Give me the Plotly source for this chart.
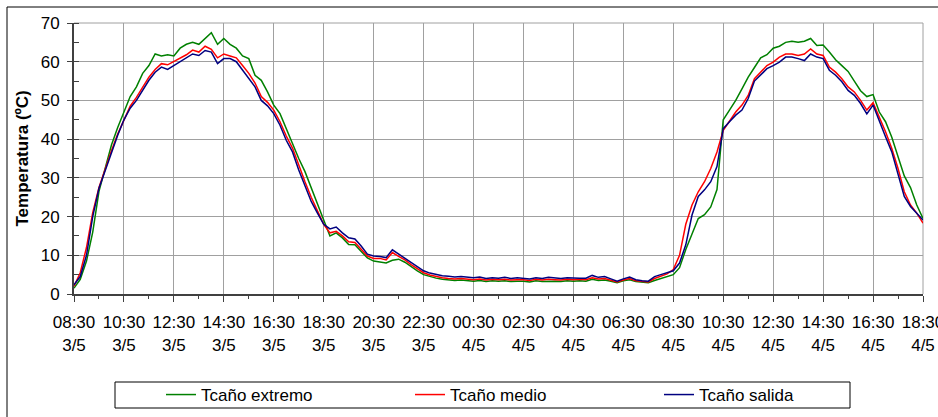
import pandas as pd
import plotly.graph_objects as go

# 15-minute readings from 08:30 3/5 to 18:30 4/5
times = pd.date_range("2008-05-03 08:30", periods=137, freq="15min")

night_salida = [4.6, 4.4, 4.5, 4.3, 4.2, 4.4, 4.0, 4.2, 4.1, 4.3, 4.0, 4.2, 4.1, 3.9, 4.2, 4.0,
                4.3, 4.1, 4.0, 4.2, 4.1, 4.1, 4.1, 4.8, 4.3, 4.5, 3.9, 3.3, 3.9, 4.4, 3.7, 3.4, 3.3]
night_medio = [4.0, 3.9, 4.0, 3.8, 3.7, 3.9, 3.6, 3.8, 3.7, 3.8, 3.6, 3.7, 3.7, 3.5, 3.8, 3.6,
               3.8, 3.7, 3.6, 3.8, 3.7, 3.8, 3.7, 4.2, 3.9, 4.0, 3.6, 3.1, 3.6, 4.0, 3.4, 3.2, 3.1]
night_extremo = [3.6, 3.5, 3.6, 3.4, 3.3, 3.5, 3.2, 3.4, 3.3, 3.4, 3.2, 3.3, 3.3, 3.1, 3.4, 3.2,
                 3.3, 3.3, 3.2, 3.4, 3.3, 3.4, 3.3, 3.8, 3.5, 3.6, 3.3, 2.9, 3.4, 3.7, 3.2, 3.0, 2.9]

t_salida = ([2.4, 4.5, 10, 20, 27.3, 32, 36.7, 41, 45, 48, 50, 52.6, 55.2, 57.3, 58.6, 58.0,
             59, 60, 60.8, 62, 61.6, 62.9, 62.5, 59.5, 60.8, 60.8, 60, 57.8, 55.6, 53.5, 50, 48.6,
             46.6, 43.6, 39.7, 36.7, 32, 27.7, 23.9, 20.9, 18, 16.8, 17.3, 15.8, 14.5, 14.2, 12.4, 10.3,
             9.8, 9.7, 9.4, 11.4, 10.3, 9.4, 8.1, 7.1, 6.0, 5.4, 5.0, 4.7]
            + night_salida
            + [4.5, 5.0, 5.4, 6.0, 8.0, 12.7, 20.4, 25.2, 26.9, 29, 32.9, 42.7, 44.5, 46.2, 47.5, 50.5,
               55.0, 56.5, 58.2, 59, 59.9, 61.2, 61.2, 60.8, 60.3, 62, 61.2, 60.8, 57.8, 56.5, 54.8, 52.6,
               51.3, 49.2, 46.5, 48.8, 44.5, 40.6, 36.7, 30.7, 25.2, 22.6, 20.9, 19.1])

t_medio = ([2.0, 5.5, 12, 21, 27.5, 32.5, 37, 41.3, 45, 48.5, 50.8, 53.5, 56, 58, 59.5, 59.2,
            60, 61, 61.8, 63, 62.5, 64, 63.2, 61, 62, 61.5, 61, 59, 57, 54.5, 51, 49.5,
            47.5, 44.5, 40.8, 37.7, 33.2, 29, 25, 21.5, 18, 15.8, 16.2, 15.0, 13.5, 13.3, 11.6, 9.8,
            9.2, 9.2, 8.8, 10.7, 9.7, 8.8, 7.6, 6.6, 5.5, 4.9, 4.5, 4.2]
           + night_medio
           + [4.0, 4.6, 5.2, 6.3, 10, 18, 23, 26.4, 29, 32.4, 36.7, 42.3, 44.6, 47, 48.8, 51.3,
              55.6, 57.3, 59, 59.9, 61.2, 62, 62, 61.6, 62, 63.3, 62, 61.6, 58.6, 57.3, 55.6, 53.5,
              52.2, 50, 47.5, 49.4, 45.8, 41.9, 37.6, 32.4, 26.4, 23, 20.9, 18.3])

t_extremo = ([1.5, 3.8, 8.5, 16, 26.5, 32.5, 38.5, 43, 47, 51, 53.5, 57, 59, 62, 61.5, 61.8,
              61.5, 63.5, 64.5, 65, 64.5, 66, 67.5, 64.5, 66, 64.5, 63.5, 61.5, 60.8, 56.5, 55.2, 52.2,
              48.8, 46.6, 42.7, 38.5, 35, 31.6, 27.3, 23, 19.1, 15, 15.8, 14.5, 12.8, 12.7, 11, 9.3,
              8.5, 8.2, 8.0, 8.7, 9.0, 8.2, 7.0, 6.0, 5.0, 4.5, 4.1, 3.8]
             + night_extremo
             + [3.5, 4.0, 4.4, 5.0, 6.8, 11.5, 15.5, 19.5, 20.5, 22.5, 27, 45, 47.5, 50, 53, 56,
                58.5, 61, 61.8, 63.5, 64, 65, 65.3, 65, 65.3, 66, 64.2, 64.3, 62.5, 60.5, 59, 57.5,
                55, 52.5, 51, 51.5, 47, 44.5, 40.5, 35.5, 30.5, 27.5, 23, 19.5])

series_names = ["Tcaño extremo", "Tcaño medio", "Tcaño salida"]
series_colors = ["#008000", "#ff0000", "#000080"]
series_values = [t_extremo, t_medio, t_salida]

tick_times = pd.date_range("2008-05-03 08:30", "2008-05-04 18:30", freq="2h")
tick_labels = [f"{t:%H:%M}<br>{t.day}/{t.month}" for t in tick_times]
minor_times = pd.date_range("2008-05-03 08:30", "2008-05-04 18:30", freq="1h")

W, H = 938, 417
L, R, T, B = 74, 923, 23, 294
pw, ph = R - L, B - T


def px_x(x):
    return (x - L) / pw


def px_y(y):
    return (B - y) / ph


fig = go.Figure()
for name, color, vals in zip(series_names, series_colors, series_values):
    fig.add_trace(go.Scatter(x=times, y=vals, name=name, mode="lines",
                             line=dict(color=color, width=1.5)))

font = dict(family="Liberation Sans, Arial, sans-serif", size=17, color="black")

fig.update_layout(
    width=W, height=H,
    margin=dict(l=L, r=W - R, t=T, b=H - B, autoexpand=False),
    paper_bgcolor="white", plot_bgcolor="white",
    font=font,
    showlegend=True,
    legend=dict(orientation="h", x=px_x(161), y=px_y(377), xanchor="left", yanchor="top",
                entrywidth=204, entrywidthmode="pixels",
                bgcolor="rgba(0,0,0,0)", borderwidth=0, font=font,
                itemwidth=30, tracegroupgap=0),
    xaxis=dict(
        type="date",
        range=[tick_times[0], tick_times[-1]],
        tickmode="array", tickvals=list(tick_times), ticktext=tick_labels,
        ticks="outside", ticklen=6, tickwidth=1, tickcolor="#404040",
        minor=dict(tickmode="array", tickvals=list(minor_times), ticks="outside",
                   ticklen=3, tickcolor="#404040", showgrid=False),
        showgrid=True, gridcolor="#a0a0a0", gridwidth=1,
        showline=True, linecolor="#404040", linewidth=2,
        ticklabelstandoff=6, ticklabeloverflow="allow",
        zeroline=False, fixedrange=True,
    ),
    yaxis=dict(
        range=[0, 70], dtick=10, tick0=0,
        ticks="outside", ticklen=5, tickwidth=1, tickcolor="#404040",
        minor=dict(dtick=5, ticks="inside", ticklen=5, tickcolor="#404040", showgrid=False),
        showgrid=True, gridcolor="#a0a0a0", gridwidth=1,
        showline=True, linecolor="#404040", linewidth=2,
        ticklabelstandoff=4,
        zeroline=False, fixedrange=True,
    ),
    shapes=[
        # outer chart frame
        dict(type="rect", xref="paper", yref="paper",
             x0=px_x(7), x1=px_x(950), y0=px_y(430), y1=px_y(7),
             line=dict(color="black", width=1), fillcolor="rgba(0,0,0,0)", layer="below"),
        # legend frame
        dict(type="rect", xref="paper", yref="paper",
             x0=px_x(115), x1=px_x(850), y0=px_y(408), y1=px_y(382),
             line=dict(color="black", width=1), fillcolor="rgba(0,0,0,0)"),
        # plot top / right border
        dict(type="line", xref="paper", yref="paper", x0=0, x1=1, y0=1, y1=1,
             line=dict(color="#a0a0a0", width=1), layer="below"),
        dict(type="line", xref="paper", yref="paper", x0=1, x1=1, y0=0, y1=1,
             line=dict(color="#a0a0a0", width=1), layer="below"),
    ],
    annotations=[
        dict(text="<b>Temperatura (ºC)</b>", xref="paper", yref="paper",
             x=px_x(22), y=0.5, xanchor="center", yanchor="middle",
             textangle=-90, showarrow=False, font=font),
    ],
)

fig.write_html(
    "out.html",
    config={"displayModeBar": False},
    post_script="document.body.style.margin='0';document.body.style.overflow='hidden';",
)
